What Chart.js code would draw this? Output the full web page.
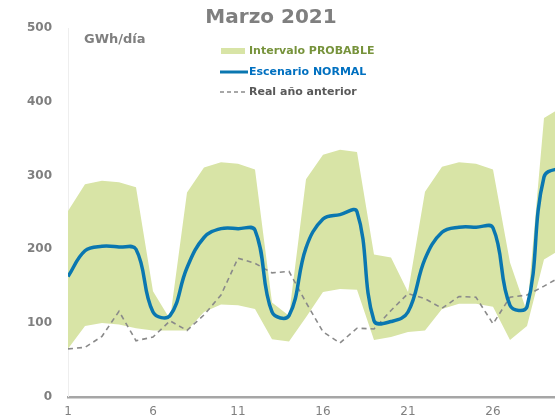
<!DOCTYPE html>
<html><head><meta charset="utf-8">
<script src="https://cdn.jsdelivr.net/npm/chart.js@4/dist/chart.umd.min.js"></script>
<style>
html,body{margin:0;padding:0;background:#fff;overflow:hidden;}
#wrap{width:555px;height:420px;overflow:hidden;position:relative;}
</style></head><body>
<div id="wrap"><canvas id="c" width="600" height="420"></canvas></div>
<script>
const titleText = "Marzo 2021";
const unitText = "GWh/día";
const legendLabels = ["Intervalo PROBABLE", "Escenario NORMAL", "Real año anterior"];
const days = [1,2,3,4,5,6,7,8,9,10,11,12,13,14,15,16,17,18,19,20,21,22,23,24,25,26,27,28,29,30,31];
const xTickDays = [1,6,11,16,21,26,31];
const yTicks = [0,100,200,300,400,500];
const bandUpper = [252,288,293,291,284,143,105,277,311,318,316,308,128,110,295,328,335,332,193,189,142,278,312,318,316,308,182,115,378,392,390];
const bandLower = [65,96,100,98,93,90,90,90,115,125,124,119,78,75,108,142,146,145,77,81,88,90,119,126,126,122,77,96,186,200,205];
const normal = [163,198,204,203,200,115,110,175,216,228,228,226,115,110,202,241,247,251,103,102,115,187,223,230,230,229,124,122,298,310,312];
const realPrev = [65,67,82,116,76,81,103,90,111,138,188,181,168,170,128,88,73,93,92,117,140,133,120,136,135,99,135,138,150,163,170];

const BAND = '#d8e4a6';
const BLUE = '#0a77b0';
const GRAY_DASH = '#8a8a8a';
const FONT = '"DejaVu Sans", Verdana, sans-serif';

const pts = arr => arr.map((v,i)=>({x:days[i], y:v}));

const overlay = {
  id:'overlay',
  afterDraw(chart){
    const ctx = chart.ctx;
    ctx.save();
    ctx.textBaseline = 'middle';
    ctx.textAlign = 'center';
    ctx.fillStyle = '#7f7f7f';
    ctx.font = 'bold 20px ' + FONT;
    ctx.fillText(titleText, 271, 18);
    ctx.textAlign = 'left';
    ctx.font = 'bold 13px ' + FONT;
    ctx.fillText(unitText, 84, 40);
    ctx.font = 'bold 11px ' + FONT;
    ctx.fillStyle = BAND;
    ctx.fillRect(221, 48, 24, 6);
    ctx.fillStyle = '#77933c';
    ctx.fillText(legendLabels[0], 249, 51);
    ctx.strokeStyle = BLUE; ctx.lineWidth = 3;
    ctx.beginPath(); ctx.moveTo(220,72); ctx.lineTo(248,72); ctx.stroke();
    ctx.fillStyle = '#0070c0';
    ctx.fillText(legendLabels[1], 249, 72);
    ctx.strokeStyle = GRAY_DASH; ctx.lineWidth = 1.5; ctx.setLineDash([4,3]);
    ctx.beginPath(); ctx.moveTo(220,92); ctx.lineTo(248,92); ctx.stroke();
    ctx.setLineDash([]);
    ctx.fillStyle = '#595959';
    ctx.fillText(legendLabels[2], 249, 92);
    ctx.restore();
  }
};

new Chart(document.getElementById('c'), {
  type:'line',
  data:{
    datasets:[
      {label:legendLabels[0], data:pts(bandUpper), fill:'+1', backgroundColor:BAND, borderWidth:0, pointRadius:0, tension:0, order:3},
      {label:'lower', data:pts(bandLower), fill:false, borderWidth:0, pointRadius:0, tension:0, order:3},
      {label:legendLabels[2], data:pts(realPrev), fill:false, borderColor:GRAY_DASH, borderWidth:1.6, borderDash:[5,4], pointRadius:0, tension:0, order:2},
      {label:legendLabels[1], data:pts(normal), fill:false, borderColor:BLUE, borderWidth:3.5, pointRadius:0, tension:0.4, order:1}
    ]
  },
  options:{
    responsive:false, animation:false, devicePixelRatio:1,
    layout:{padding:{top:28, right:22, left:0, bottom:0}},
    plugins:{legend:{display:false}, tooltip:{enabled:false}, title:{display:false}},
    scales:{
      x:{type:'linear', min:1, max:31,
        afterBuildTicks: s => { s.ticks = xTickDays.map(v=>({value:v})); },
        afterFit: s => { s.height = 22; },
        grid:{display:false, drawTicks:false},
        border:{display:true, color:'#a6a6a6', width:2.5},
        ticks:{padding:8, color:'#7f7f7f', font:{family:FONT, size:12}, maxRotation:0, autoSkip:false}
      },
      y:{min:0, max:500,
        afterBuildTicks: s => { s.ticks = yTicks.map(v=>({value:v})); },
        afterFit: s => { s.width = 68; },
        grid:{display:false, drawTicks:false},
        border:{display:true, color:'#eeeeee', width:1},
        ticks:{padding:16, color:'#7f7f7f', font:{family:FONT, size:12, weight:'bold'}}
      }
    }
  },
  plugins:[overlay]
});
</script>
</body></html>
